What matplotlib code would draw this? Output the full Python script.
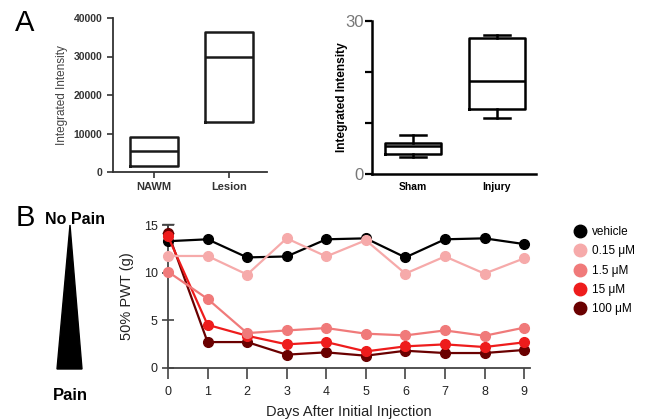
import matplotlib
matplotlib.use('Agg')
import matplotlib.pyplot as plt
from matplotlib.patches import Polygon
from matplotlib.lines import Line2D

plt.rcParams['font.family'] = ['Liberation Sans', 'DejaVu Sans']

W, H = 645, 420

# ---------------- data ----------------
# Panel A (left)
a1_groups = ['NAWM', 'Lesion']
a1_q1 = [1500, 13000]
a1_med = [5500, 30000]
a1_q3 = [9200, 36300]
a1_yticks = [0, 10000, 20000, 30000, 40000]

# Panel A (right)
a2_groups = ['Sham', 'Injury']
a2_whislo = [3.4, 11.0]
a2_q1 = [4.0, 12.7]
a2_med = [5.4, 18.2]
a2_q3 = [6.0, 26.7]
a2_whishi = [7.6, 27.2]
a2_yticks = [0, 10, 20, 30]
a2_yticklabels = ['0', '', '', '30']

# Panel B
days = [0, 1, 2, 3, 4, 5, 6, 7, 8, 9]
series_labels = ['vehicle', '0.15 \u03bcM', '1.5 \u03bcM', '15 \u03bcM', '100 \u03bcM']
vehicle = [13.3, 13.5, 11.6, 11.7, 13.5, 13.6, 11.6, 13.5, 13.6, 13.0]
conc_015 = [11.75, 11.75, 9.8, 13.6, 11.7, 13.4, 9.9, 11.7, 9.9, 11.5]
conc_1_5 = [10.1, 7.25, 3.66, 3.94, 4.19, 3.6, 3.42, 3.94, 3.38, 4.23]
conc_15 = [13.8, 4.53, 3.38, 2.48, 2.72, 1.74, 2.27, 2.48, 2.2, 2.69]
conc_100 = [14.2, 2.72, 2.72, 1.4, 1.64, 1.29, 1.81, 1.57, 1.57, 1.89]
err_100_day0 = 0.9
series_colors = ['#000000', '#F6AAAA', '#F07A7A', '#EE1C1C', '#6A0000']

fig = plt.figure(figsize=(W / 100, H / 100), dpi=100)


def px_axes(x0, y0, x1, y1):
    return fig.add_axes([x0 / W, 1 - y1 / H, (x1 - x0) / W, (y1 - y0) / H])


def ftext(x, y, s, **kw):
    fig.text(x / W, 1 - y / H, s, **kw)


# ---------------- Panel A left ----------------
ax1 = px_axes(113, 18, 267, 172)
stats1 = [dict(med=m, q1=a, q3=b, whislo=a, whishi=b, fliers=[], label=g)
          for g, a, m, b in zip(a1_groups, a1_q1, a1_med, a1_q3)]
lc1 = '#1a1a1a'
ax1.bxp(stats1, positions=[1, 2], widths=0.64, showcaps=False,
        boxprops=dict(color=lc1, lw=1.8),
        medianprops=dict(color=lc1, lw=1.8),
        whiskerprops=dict(color=lc1, lw=0))
ax1.set_xlim(0.454, 2.507)
ax1.set_ylim(0, 40000)
ax1.set_yticks(a1_yticks)
ax1.set_yticklabels([str(v) for v in a1_yticks], fontsize=7.5,
                    fontweight='bold', color='#333333')
ax1.set_xticks([1, 2])
ax1.set_xticklabels(a1_groups, fontsize=8, fontweight='bold', color='#333333')
for s in ['top', 'right']:
    ax1.spines[s].set_visible(False)
for s in ['left', 'bottom']:
    ax1.spines[s].set_linewidth(1.3)
    ax1.spines[s].set_color('#333333')
ax1.tick_params(colors='#333333', length=4, width=1.2)
ax1.set_ylabel('Integrated Intensity', fontsize=8.5, color='#444444', labelpad=4)

# ---------------- Panel A right ----------------
ax2 = px_axes(372, 21, 536, 174)
stats2 = [dict(med=m, q1=a, q3=b, whislo=lo, whishi=hi, fliers=[], label=g)
          for g, lo, a, m, b, hi in zip(a2_groups, a2_whislo, a2_q1, a2_med,
                                        a2_q3, a2_whishi)]
ax2.bxp(stats2, positions=[1, 2], widths=0.667, capwidths=0.32,
        boxprops=dict(color='black', lw=1.8),
        medianprops=dict(color='black', lw=1.8),
        whiskerprops=dict(color='black', lw=1.8),
        capprops=dict(color='black', lw=1.8))
ax2.set_xlim(0.512, 2.465)
ax2.set_ylim(0, 30)
ax2.set_yticks(a2_yticks)
ax2.set_yticklabels(a2_yticklabels, fontsize=12, color='#777777')
ax2.set_xticks([1, 2])
ax2.set_xticklabels(a2_groups, fontsize=7.5, fontweight='bold')
ax2.tick_params(axis='x', length=0, pad=6)
ax2.tick_params(axis='y', length=5, width=1.6, pad=1)
for s in ['top', 'right']:
    ax2.spines[s].set_visible(False)
for s in ['left', 'bottom']:
    ax2.spines[s].set_linewidth(1.8)
ax2.set_ylabel('Integrated Intensity', fontsize=8.6, fontweight='bold')
ax2.yaxis.set_label_coords(-0.145, 0.5)

# ---------------- Panel B ----------------
ax3 = px_axes(168, 225, 530, 368)
all_series = [vehicle, conc_015, conc_1_5, conc_15, conc_100]
zorders = [4, 6, 5, 4.5, 3]
handles = []
for vals, lab, col, z in zip(all_series, series_labels, series_colors, zorders):
    ax3.plot(days, vals, '-o', color=col, lw=1.6, ms=7, zorder=z, clip_on=False)
    handles.append(Line2D([], [], ls='none', marker='o', ms=9, color=col, label=lab))
ax3.errorbar([days[0]], [conc_100[0]], yerr=[[0], [err_100_day0]], fmt='none',
             ecolor='#444444', elinewidth=1.2, capsize=4, zorder=2, clip_on=False)
ax3.set_xlim(0, 9.15)
ax3.set_ylim(0, 15)
ax3.set_xticks(days)
ax3.set_yticks([0, 5, 10, 15])
gc = '#444444'
for s in ['top', 'right']:
    ax3.spines[s].set_visible(False)
for s in ['left', 'bottom']:
    ax3.spines[s].set_linewidth(1.3)
    ax3.spines[s].set_color(gc)
ax3.tick_params(colors=gc, labelcolor='#222222', labelsize=9, width=1.2)
ax3.tick_params(axis='x', direction='out', length=8, pad=5)
ax3.tick_params(axis='y', direction='inout', length=9, pad=3)
ax3.set_xlabel('Days After Initial Injection', fontsize=10.5, color='#222222', labelpad=5)
ax3.set_ylabel('50% PWT (g)', fontsize=10.5, color='#222222', labelpad=7)

fig.legend(handles=handles, loc='upper left', bbox_to_anchor=(574 / W, 1 - 226 / H),
           frameon=False, fontsize=8.5, handlelength=1.0, handletextpad=0.5,
           labelspacing=0.62, borderpad=0, borderaxespad=0)

# ---------------- Pain triangle & panel letters ----------------
tri_px = [(70, 225), (57, 369), (82, 369)]
tri = Polygon([(x / W, 1 - y / H) for x, y in tri_px], closed=True,
              facecolor='black', edgecolor='black', transform=fig.transFigure)
fig.add_artist(tri)
ftext(75, 219, 'No Pain', fontsize=11.5, fontweight='bold', ha='center', va='center')
ftext(70, 395, 'Pain', fontsize=12, fontweight='bold', ha='center', va='center')
ftext(25, 23, 'A', fontsize=21, ha='center', va='center')
ftext(25, 218, 'B', fontsize=21, ha='center', va='center')

fig.savefig('out.png', dpi=100)
